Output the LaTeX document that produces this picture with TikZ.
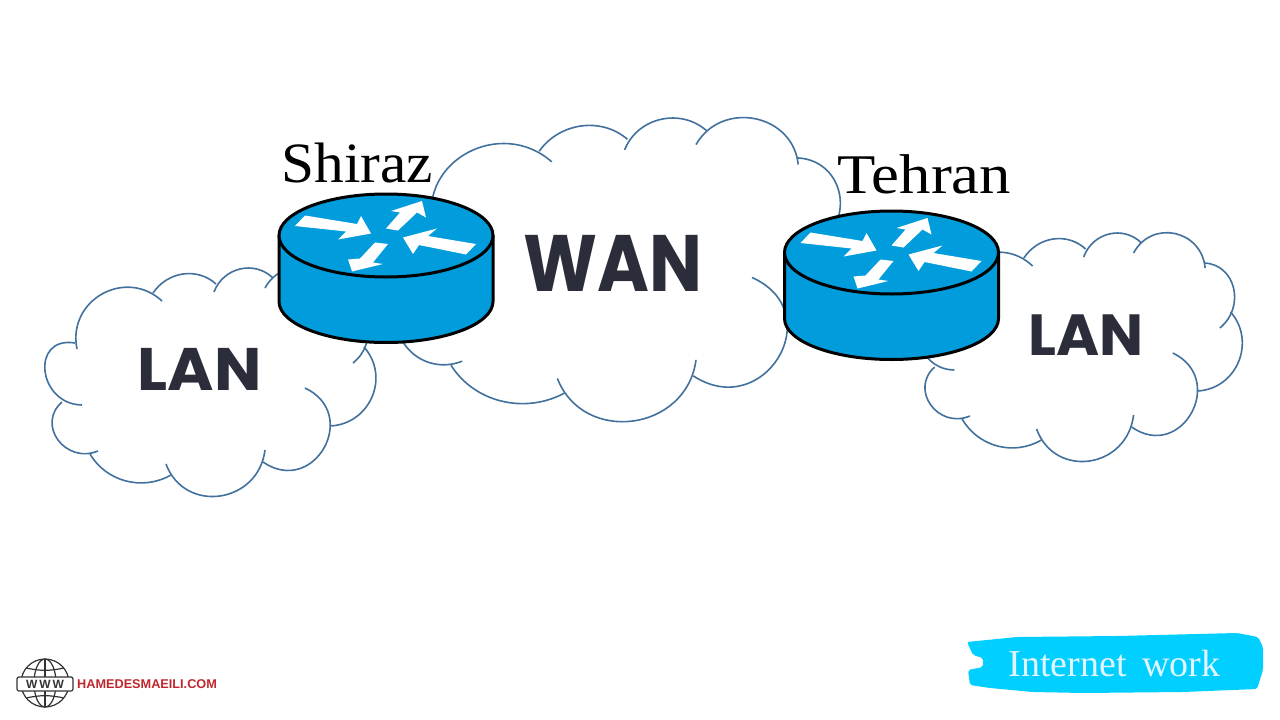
\documentclass[tikz,border=0pt]{standalone}
\usepackage{fontspec}
\setmainfont{Liberation Serif}
\newfontfamily\headfont{Poppins}
\newfontfamily\logofont{Liberation Sans}
\definecolor{cloudblue}{HTML}{41719C}
\definecolor{routerblue}{HTML}{009CDC}
\definecolor{headdark}{HTML}{2B2D3A}
\definecolor{brushcyan}{HTML}{00CFFF}
\definecolor{logored}{HTML}{C0272D}
\definecolor{globedark}{HTML}{333333}
% one scallop: start x y, top of the bulge x y, end x y
\newcommand{\cloudarc}[6]{
    \pgfmathsetmacro{\bulgex}{#3-(#1+#5)/2}
    \pgfmathsetmacro{\bulgey}{#4-(#2+#6)/2}
    \pgfmathsetmacro{\pull}{(1-(\bulgex*\bulgex+\bulgey*\bulgey)/(((#5-#1)*(#5-#1)+(#6-#2)*(#6-#2))/4))/3}
    \pgfmathsetmacro{\pullx}{\pull*(#5-#1)}
    \pgfmathsetmacro{\pully}{\pull*(#6-#2)}
    \draw[cloudline] (#1,#2) .. controls ({#1+1.333*\bulgex+\pullx},{#2+1.333*\bulgey+\pully})
        and ({#5+1.333*\bulgex-\pullx},{#6+1.333*\bulgey-\pully}) .. (#5,#6);
}
\begin{document}
\begin{tikzpicture}[x=1pt,y=-1pt,
        cloudline/.style={cloudblue,line width=1.6pt},
        cityname/.style={anchor=base,black,transform shape,font=\fontsize{#1}{60}\selectfont},
        nettext/.style={headdark,transform shape,font=\headfont\bfseries\fontsize{#1}{#1}\selectfont},
        cloud/.pic={
            \cloudarc{32}{81}{57}{26}{117}{33}
            \cloudarc{108}{25}{138}{6}{171}{16}
            \cloudarc{169}{24}{195}{1}{228}{10}
            \cloudarc{220}{20}{262}{0.5}{293}{35}
            \cloudarc{292}{30}{322}{55}{308}{95}
            \cloudarc{319}{79}{327}{129}{285}{158}
            \cloudarc{260}{120}{279}{180}{218}{194}
            \cloudarc{220}{182}{175}{228}{121}{196}
            \cloudarc{126}{207}{81}{213}{45}{186}
            \cloudarc{53}{183}{13}{172}{17}{134}
            \cloudarc{37}{137}{0}{103}{30}{75}
        },
        router/.pic={
            \draw[fill=routerblue,line width=3pt,line join=round]
                (-107,0) -- (-107,66) arc[start angle=180,end angle=0,x radius=107,y radius=41]
                -- (107,0) -- cycle;
            \draw[fill=routerblue,line width=3pt] (0,0) ellipse[x radius=107,y radius=41.5];
            \fill[white] (-91,-9.5) -- (-81,-20) -- (-29,-11.5) -- (-25,-19.5) -- (-15,-2) -- (-48,4) -- (-40,-4) -- cycle;
            \fill[white] (0,-7) -- (14,-23) -- (5,-24.5) -- (36,-34.5) -- (40,-18) -- (31,-23) -- (12,-5) -- cycle;
            \fill[white] (90,8.5) -- (42,0.5) -- (51,-7) -- (17,2) -- (27,18.5) -- (33,9.5) -- (80,19) -- cycle;
            \fill[white] (-11,7) -- (2,8.5) -- (-13,27) -- (-3,28.5) -- (-34,36) -- (-38,24) -- (-26,23) -- cycle;
        }]
    \useasboundingbox (0,0) rectangle (1280,720);
    \fill[white] (0,0) rectangle (1280,720);

    % clouds
    \pic at (45,268) {cloud};
    \pic[xscale=1.4,yscale=1.329] at (388,118) {cloud};
    \pic[xscale=0.98,yscale=1.0] at (918,233) {cloud};

    % routers
    \pic at (386,235.5) {router};
    \pic at (891.5,252.5) {router};

    \node[cityname=57,xscale=1.04] (shirazname) at (357.5,182) {Shiraz};
    \node[cityname=56,xscale=1.12] (tehranname) at (924.5,193) {Tehran};

    \node[nettext=80,xscale=0.88] (wanname) at (612.5,263) {WAN};
    \node[nettext=60,xscale=1.05] (leftlan) at (199.5,369) {LAN};
    \node[nettext=58,xscale=1.01] (rightlan) at (1086,335) {LAN};

    % footer tag
    \fill[brushcyan,rounded corners=2pt] (967,642) -- (1017,637) -- (1117,636) -- (1237,633) -- (1258,637) -- (1263,647)
        -- (1263,670) -- (1257,689) -- (1183,692) -- (1083,693) -- (1033,692) -- (990,688) -- (970,685)
        -- (968,670) -- (983,667) -- (983,658) -- (973,655) -- cycle;
    \node[anchor=base,white!88!cyan,font=\fontsize{38}{40}\selectfont] (tagname) at (1114.5,676) {Internet\, work};

    % logo
    \draw[globedark,line width=1.2pt] (45,683) circle (24);
    \draw[globedark,line width=1.2pt] (45,683) ellipse[x radius=11,y radius=24];
    \draw[globedark,line width=1.2pt] (45,659) -- (45,707);
    \draw[globedark,line width=1.2pt] (26,668) to[bend right=12] (64,668);
    \draw[globedark,line width=1.2pt] (26,698) to[bend left=12] (64,698);
    \draw[globedark,fill=white,line width=1.2pt,rounded corners=2pt] (17,677) rectangle (73,691);
    \node[globedark,font=\logofont\bfseries\fontsize{12}{12}\selectfont] (logowww) at (45,684) {W\,W\,W};
    \node[anchor=west,inner sep=0pt,logored,font=\logofont\bfseries\fontsize{12.7}{13}\selectfont] (logoname) at (77,684) {HAMEDESMAEILI.COM};
\end{tikzpicture}
\end{document}
